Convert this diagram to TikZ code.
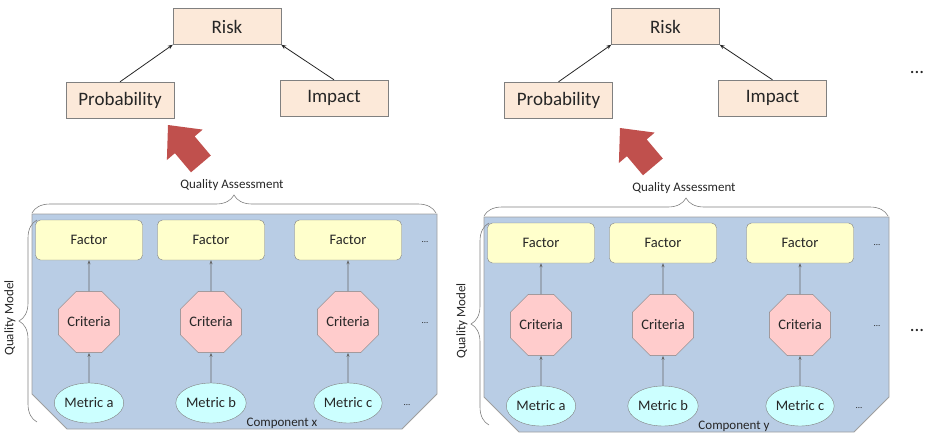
\documentclass[tikz,border=0pt]{standalone}
\usepackage{fontspec}
\setmainfont{Carlito}
\usetikzlibrary{arrows.meta, shapes.geometric, decorations.pathreplacing}
\definecolor{riskfill}{RGB}{252,233,217}
\definecolor{factorfill}{RGB}{255,255,204}
\definecolor{critfill}{RGB}{255,204,204}
\definecolor{metricfill}{RGB}{204,255,255}
\definecolor{panelfill}{RGB}{185,205,229}
\definecolor{myred}{RGB}{192,80,77}
\definecolor{linegray}{RGB}{128,128,128}
\definecolor{txtgray}{RGB}{38,38,38}
\tikzset{
  riskbox/.style={draw=linegray, fill=riskfill, minimum width=108, minimum height=36, inner sep=0, text=txtgray, font=\fontsize{19}{22}\selectfont},
  factorbox/.style={draw=linegray, fill=factorfill, rounded corners=5, minimum width=107, minimum height=40, inner sep=0, text=txtgray, font=\fontsize{14.5}{17}\selectfont},
  critbox/.style={draw=linegray, fill=critfill, regular polygon, regular polygon sides=8, minimum size=65, inner sep=0, text=txtgray, font=\fontsize{14.5}{17}\selectfont},
  metricbox/.style={draw=linegray, fill=metricfill, ellipse, minimum width=53, minimum height=40, inner sep=0, text=txtgray, font=\fontsize{14.5}{17}\selectfont},
  smalltext/.style={inner sep=0, text=txtgray, font=\fontsize{13}{15}\selectfont},
  dotstext/.style={inner sep=0, text=txtgray, font=\fontsize{9}{10}\selectfont},
  bigdots/.style={inner sep=0, text=txtgray, font=\fontsize{19}{22}\selectfont},
  risklink/.style={-{Stealth[length=5pt,width=4pt]}, draw=txtgray, line width=0.8pt},
  qlink/.style={-{Stealth[length=4pt,width=3pt]}, draw=linegray!80!black, line width=0.6pt},
  qbrace/.style={decorate, decoration={brace, amplitude=18}, draw=linegray, line width=0.6pt},
  panel/.style={fill=panelfill, draw=gray!75, line width=0.8pt}
}

\begin{document}
\begin{tikzpicture}[x=1pt, y=-1pt]
  \useasboundingbox (0,0) rectangle (929,434);
  \foreach \p/\tx/\bx/\by/\comp in {L/0/0/0/x, R/438.5/452/3/y}{
    % risk tree
    \begin{scope}[shift={(\tx,0)}]
      \node[riskbox] (risk\p) at (227,26.5) {Risk};
      \node[riskbox] (prob\p) at (120,100) {Probability};
      \node[riskbox] (imp\p) at (334,98) {Impact};
      \draw[risklink] (prob\p.north) -- (risk\p.south west);
      \draw[risklink] (imp\p.north) -- (risk\p.south east);
    \end{scope}
    % component with its quality model
    \begin{scope}[shift={(\bx,\by)}]
      \fill[myred] (168,125) -- (202.7,129.6) -- (194.7,136.4) -- (210.8,155.5)
        -- (191,172.3) -- (174.9,153.2) -- (166.9,160) -- cycle;
      \node[smalltext] (qa\p) at (232,185) {Quality Assessment};
      \draw[panel] (32,214) -- (437,214) -- (437,394) -- (402,429) -- (67,429) -- (32,394) -- cycle;
      \draw[qbrace] (32,213) -- (436,213);
      \draw[qbrace] (37,422) -- (37,220);
      \node[smalltext, rotate=90] (qm\p) at (10,318) {Quality Model};
      \foreach \x/\m [count=\i] in {89/a, 211/b, 348/c}{
        \node[factorbox] (f\p\i) at (\x,240) {Factor};
        \node[critbox] (c\p\i) at (\x,322) {Criteria};
        \node[metricbox] (m\p\i) at (\x,403) {Metric \m};
        \draw[qlink] (c\p\i.north) -- (f\p\i.south);
        \draw[qlink] (m\p\i.north) -- (c\p\i.south);
      }
      \node[dotstext] (df\p) at (425,242) {...};
      \node[dotstext] (dc\p) at (425,323) {...};
      \node[dotstext] (dm\p) at (407,405) {...};
      \node[smalltext] (comp\p) at (282,423) {Component \comp};
    \end{scope}
  }
  \node[bigdots] (moretop) at (917,72) {...};
  \node[bigdots] (morebot) at (917,330) {...};
\end{tikzpicture}
\end{document}
